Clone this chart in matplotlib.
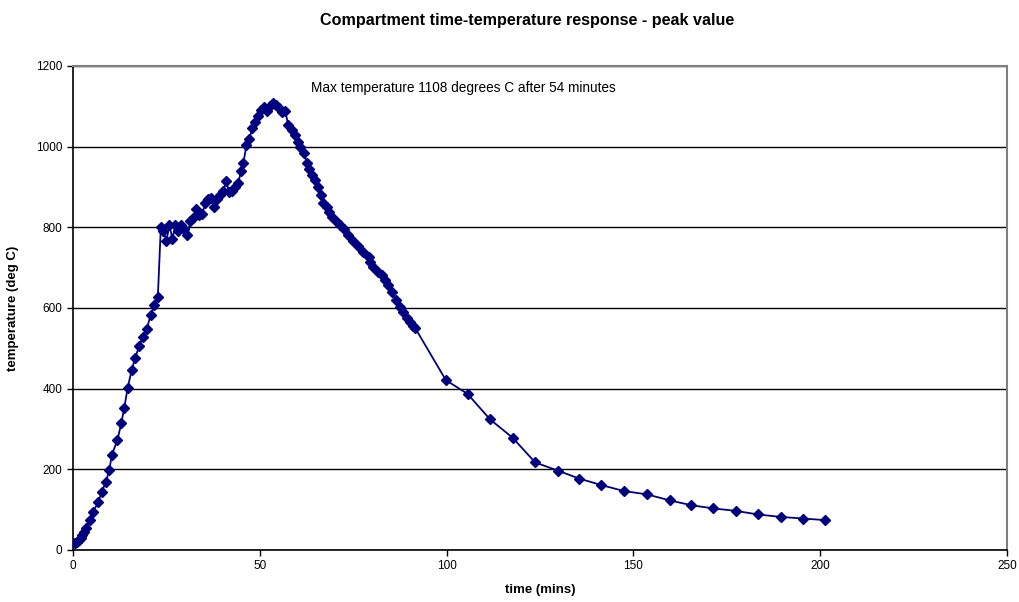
import matplotlib
matplotlib.use('Agg')
import matplotlib.pyplot as plt

plt.rcParams['font.family'] = ['Liberation Sans', 'DejaVu Sans']

# time (mins) and compartment temperature (deg C)
time_mins = [
    0, 0.5, 1, 1.5, 2, 2.5, 3, 3.5, 4.5, 5.4, 6.8, 7.7, 8.8, 9.7, 10.4,
    11.9, 12.9, 13.7, 14.6, 15.7, 16.6, 17.7, 18.7, 19.7, 20.8, 21.8, 22.7,
    23.5, 24.2, 25.0, 25.8, 26.6, 27.4, 28.2, 29.0, 29.8, 30.6, 31.4, 32.2,
    33.0, 33.8, 34.6, 35.4, 36.2, 37.0, 37.8, 38.6, 39.4, 40.2, 41.0, 41.8,
    42.6, 43.4, 44.2, 45.0, 45.6, 46.4, 47.2, 48.0, 48.8, 49.6, 50.4, 51.2,
    52.0, 52.8, 53.6, 54.4, 55.2, 56.0, 56.8, 57.6, 58.6, 59.4, 60.3, 60.8,
    61.7, 62.6, 63.2, 63.9, 64.8, 65.7, 66.3, 67.0, 67.9, 68.4, 69.3, 70.6,
    71.5, 72.4, 73.7, 75.0, 76.4, 77.7, 79.1, 79.5, 80.4, 81.5, 82.7, 83.5,
    84.4, 85.3, 86.5, 87.6, 88.4, 89.3, 90.2, 91.0, 91.6,
    99.8, 105.6, 111.6, 117.7, 123.7, 129.7, 135.5, 141.4, 147.5, 153.6,
    159.7, 165.5, 171.4, 177.4, 183.4, 189.4, 195.4, 201.4,
]
temp_c = [
    18, 17, 20, 25, 30, 38, 45, 55, 74, 95, 120, 145, 169, 198, 236,
    273, 314, 351, 401, 446, 475, 506, 529, 547, 583, 607, 628,
    800, 790, 767, 805, 772, 805, 790, 806, 795, 780, 815, 823,
    845, 830, 833, 860, 870, 872, 850, 870, 880, 890, 915, 887,
    890, 900, 910, 940, 960, 1003, 1020, 1045, 1060, 1075, 1090, 1098,
    1088, 1100, 1108, 1103, 1095, 1085, 1088, 1054, 1041, 1029, 1012, 1000,
    985, 960, 945, 930, 917, 900, 880, 860, 850, 839, 826, 814,
    806, 795, 781, 765, 754, 740, 727, 715, 702, 690, 682, 669,
    657, 640, 620, 603, 591, 574, 566, 555, 550,
    421, 387, 324, 278, 217, 197, 177, 161, 146, 138,
    123, 111, 103, 97, 88, 82, 78, 74,
]

x_ticks = [0, 50, 100, 150, 200, 250]
y_ticks = [0, 200, 400, 600, 800, 1000, 1200]
note = 'Max temperature 1108 degrees C after 54 minutes'

fig = plt.figure(figsize=(10.2, 6.02), dpi=100)
ax = fig.add_axes([0.0716, 0.0864, 0.9157, 0.804])

ax.plot(time_mins, temp_c, color='#000080', lw=1.3, marker='D', ms=4.6,
        mfc='#000080', mec='#000080', zorder=3)

ax.set_xlim(0, 250)
ax.set_ylim(0, 1200)
ax.set_xticks(x_ticks)
ax.set_yticks(y_ticks)
ax.tick_params(labelsize=8.5, length=4, width=1, direction='out')
ax.yaxis.grid(True, color='black', lw=1.0)
ax.set_axisbelow(True)

for s in ('top', 'right'):
    ax.spines[s].set_color('#808080')
    ax.spines[s].set_linewidth(1.5)
for s in ('left', 'bottom'):
    ax.spines[s].set_color('black')
    ax.spines[s].set_linewidth(1.2)

ax.set_xlabel('time (mins)', fontsize=9.5, fontweight='bold', labelpad=8)
ax.set_ylabel('temperature (deg C)', fontsize=9.5, fontweight='bold', labelpad=12)
ax.text(63.7, 1145, note, fontsize=9.8, va='center', ha='left')

fig.suptitle('Compartment time-temperature response - peak value',
             fontsize=11.6, fontweight='bold', x=0.517, y=0.978)

fig.savefig('out.png', dpi=100)
